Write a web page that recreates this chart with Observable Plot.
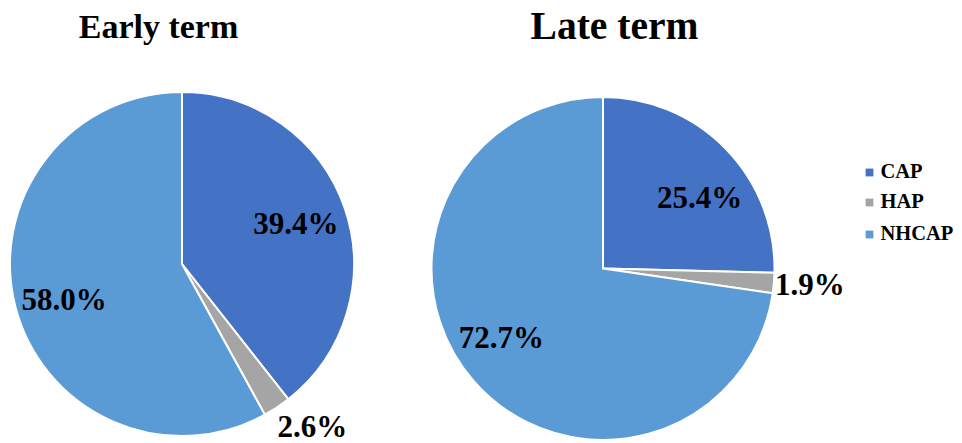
<!DOCTYPE html>
<html>
<head>
<meta charset="utf-8">
<script src="https://cdn.jsdelivr.net/npm/d3@7"></script>
<script src="https://cdn.jsdelivr.net/npm/@observablehq/plot@0.6"></script>
<style>
  html, body { margin: 0; padding: 0; background: #fff; }
</style>
</head>
<body>
<div id="chart"></div>
<script>
// ---- data ----
const categories = ["CAP", "HAP", "NHCAP"];
const earlyTerm = [39.4, 2.6, 58.0];
const lateTerm = [25.4, 1.9, 72.7];
const titles = ["Early term", "Late term"];
const colors = ["#4472C4", "#A5A5A5", "#5B9BD5"];

// ---- layout ----
const pies = [
  {title: titles[0], values: earlyTerm, cx: 182, cy: 264, r: 172, titleX: 158, titleY: 27, titleSize: 34,
   nudge: [[-2, -1], [14, -12], [0, 5]]},
  {title: titles[1], values: lateTerm, cx: 603, cy: 268.5, r: 171.5, titleX: 614, titleY: 25.5, titleSize: 39.5,
   nudge: [[9, 14], [-2, -2], [-10, -11]]}
];
const FONT = "'Liberation Serif', 'Times New Roman', serif";
const LABEL_SIZE = 31;

const pieGen = d3.pie().sort(null).value(d => d.value);
const wedges = [];
const labels = [];
pies.forEach((p, pi) => {
  const rows = categories.map((c, i) => ({category: c, value: p.values[i], color: colors[i]}));
  pieGen(rows).forEach((a, i) => {
    wedges.push({...a, cx: p.cx, cy: p.cy, r: p.r});
    const mid = (a.startAngle + a.endAngle) / 2;
    const small = a.data.value < 5;
    const k = small ? 1.22 : 0.71;
    labels.push({
      text: a.data.value.toFixed(1) + "%",
      x: p.cx + k * p.r * Math.sin(mid) + p.nudge[i][0],
      y: p.cy - k * p.r * Math.cos(mid) + p.nudge[i][1]
    });
  });
});

const pieMark = (index, scales, values, dimensions, context) => {
  const g = d3.create("svg:g");
  const arc = d3.arc().innerRadius(0);
  g.selectAll("path")
    .data(wedges)
    .join("path")
    .attr("transform", d => `translate(${scales.x(d.cx)},${scales.y(d.cy)})`)
    .attr("d", d => arc.outerRadius(d.r)(d))
    .attr("fill", d => d.data.color)
    .attr("stroke", "#fff")
    .attr("stroke-width", 2)
    .attr("stroke-linejoin", "round");
  return g.node();
};

const legendRows = categories.map((c, i) => ({category: c, color: colors[i], y: [172, 202, 234][i]}));

const chart = Plot.plot({
  width: 962,
  height: 443,
  margin: 0,
  x: {type: "identity", axis: null},
  y: {type: "identity", axis: null},
  style: {background: "#fff"},
  marks: [
    pieMark,
    Plot.text(pies, {x: "titleX", y: "titleY", text: "title", fontSize: d => d.titleSize,
      fontWeight: "bold", fontFamily: FONT, fill: "#000"}),
    Plot.text(labels, {x: "x", y: "y", text: "text", fontSize: LABEL_SIZE, fontWeight: "bold",
      fontFamily: FONT, fill: "#000"}),
    Plot.dot(legendRows, {x: 869, y: "y", symbol: "square", r: 4.4, fill: "color", stroke: null}),
    Plot.text(legendRows, {x: 880, y: "y", text: "category", textAnchor: "start", fontSize: 20.5,
      fontWeight: "bold", fontFamily: FONT, fill: "#000", dy: -1})
  ]
});
document.getElementById("chart").appendChild(chart);
</script>
</body>
</html>
